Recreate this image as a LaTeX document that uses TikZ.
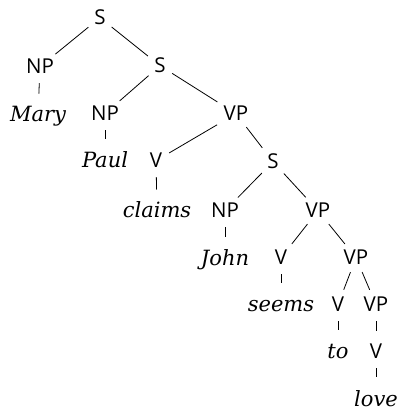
\documentclass[tikz,border=0pt]{standalone}
\usepackage{fontspec}
\setmainfont{Open Sans}
\newfontfamily\wordfont{DejaVu Serif}
\tikzset{
  cat/.style={font=\fontsize{20.5}{22}\selectfont, inner sep=0pt, anchor=base, text height=14.6pt, text depth=0pt},
  word/.style={font=\wordfont\itshape\fontsize{21}{23}\selectfont, inner sep=0pt, anchor=base, text height=15.3pt, text depth=0pt},
  br/.style={line width=0.8pt, shorten <=7.5pt, shorten >=8pt},
  vbr/.style={line width=0.8pt, shorten <=9pt, shorten >=13pt}
}
\begin{document}
\begin{tikzpicture}[x=1pt,y=1pt]
\useasboundingbox (0,0) rectangle (399,415);
% y_tikz = 415 - baseline_px
\node[cat] (s1) at (100,415-25) {S};
\node[cat] (np1) at (40,415-74) {NP};
\node[word] (mary) at (38,415-122) {Mary};
\node[cat] (s2) at (160,415-73) {S};
\node[cat] (np2) at (105,415-121) {NP};
\node[word] (paul) at (105,415-168) {Paul};
\node[cat] (vp2) at (236,415-121) {VP};
\node[cat] (v2) at (156,415-168) {V};
\node[word] (claims) at (157,415-218) {claims};
\node[cat] (s3) at (273,415-169) {S};
\node[cat] (np3) at (225,415-218) {NP};
\node[word] (john) at (225,415-266) {John};
\node[cat] (vp3) at (318,415-218) {VP};
\node[cat] (v3) at (281,415-265) {V};
\node[word] (seems) at (281,415-312) {seems};
\node[cat] (vp4) at (356,415-265) {VP};
\node[cat] (v4) at (338,415-312) {V};
\node[word] (to) at (338,415-359) {to};
\node[cat] (vp5) at (376,415-312) {VP};
\node[cat] (v5) at (376,415-359) {V};
\node[word] (love) at (376,415-406) {love};
\draw[br] (s1) -- (np1);
\draw[br] (s1) -- (s2);
\draw[vbr] (np1) -- (mary);
\draw[br] (s2) -- (np2);
\draw[br] (s2) -- (vp2);
\draw[vbr] (np2) -- (paul);
\draw[br] (vp2) -- (v2);
\draw[br] (vp2) -- (s3);
\draw[vbr] (v2) -- (claims);
\draw[br] (s3) -- (np3);
\draw[br] (s3) -- (vp3);
\draw[vbr] (np3) -- (john);
\draw[br] (vp3) -- (v3);
\draw[br] (vp3) -- (vp4);
\draw[vbr] (v3) -- (seems);
\draw[br] (vp4) -- (v4);
\draw[br] (vp4) -- (vp5);
\draw[vbr] (v4) -- (to);
\draw[vbr] (vp5) -- (v5);
\draw[vbr] (v5) -- (love);
\end{tikzpicture}
\end{document}
